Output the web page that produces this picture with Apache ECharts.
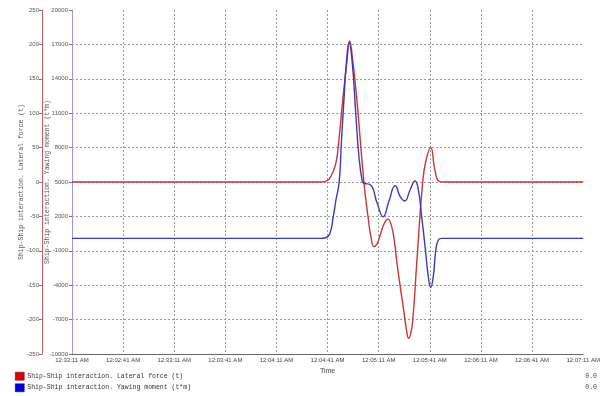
<!DOCTYPE html>
<html>
<head>
<meta charset="utf-8">
<script src="https://cdn.jsdelivr.net/npm/echarts@6/dist/echarts.min.js"></script>
<style>
html,body{margin:0;padding:0;background:#fff;}
#c{width:603px;height:396px;}
</style>
</head>
<body>
<div id="c"></div>
<script>
// X tick labels (as shown in the reference), one per 30 s
var xLabels = ['12:32:11 AM','12:02:41 AM','12:33:11 AM','12:03:41 AM','12:04:11 AM','12:04:41 AM','12:05:11 AM','12:05:41 AM','12:06:11 AM','12:06:41 AM','12:07:11 AM'];
var seriesNames = ['Ship-Ship interaction. Lateral force (t)', 'Ship-Ship interaction. Yawing moment (t*m)'];
var legendValues = ['0.0', '0.0'];

// Lateral force (t): time in seconds from start, value
var forceTime  = [0, 146.0, 149.0, 151.9, 154.8, 156.2, 159.1, 161.2, 163.0, 164.5, 167.0, 171.3, 173.7, 175.6, 177.2, 179.0, 181.0, 183.3, 185.3, 187.3, 189.3, 190.7, 194.9, 196.3, 197.5, 198.7, 200.0, 202.3, 205.8, 207.8, 210.5, 213.0, 215.5, 218.5, 300];
var forceValue = [0, 0, 1, 8, 27, 51, 124, 172, 205, 182, 124, 0, -50, -82, -94, -90, -76, -60, -54, -62, -88, -118, -191, -215, -227, -221, -200, -118, 0, 32, 50, 17, 1, 0, 0];

// Yawing moment (t*m)
var momentTime  = [0, 146.0, 148.4, 151.2, 153.3, 154.9, 156.8, 158.1, 159.7, 161.0, 162.6, 164.5, 166.5, 168.4, 170.4, 171.4, 175.2, 179.1, 182.6, 185.9, 189.7, 192.6, 195.2, 198.4, 201.3, 203.3, 205.2, 207.2, 209.1, 210.5, 212.0, 213.5, 215.0, 216.9, 219.5, 300];
var momentValue = [80, 80, 120, 465, 1974, 3430, 5026, 8490, 12440, 15350, 17150, 15350, 10990, 7206, 5026, 4890, 4740, 3140, 1974, 3282, 4680, 3718, 3343, 4302, 5087, 4302, 1974, -643, -3259, -4183, -3259, -930, -58, 80, 80, 80];

function pairs(t, v){ return t.map(function(x,i){ return [x, v[i]]; }); }

var chart = echarts.init(document.getElementById('c'), null, {renderer:'canvas'});
var sans = 'Liberation Sans';
var mono = 'Liberation Mono';
var gridStyle = {show:true, showMinLine:false, showMaxLine:false, lineStyle:{color:'#9a9a9a', type:[2,2], width:1}};

chart.setOption({
  animation:false,
  backgroundColor:'#ffffff',
  grid:{left:72, right:15, top:10, bottom:42, containLabel:false},
  xAxis:{
    type:'value', min:0, max:300, interval:30,
    name:'Time', nameLocation:'middle', nameGap:14, nameMoveOverlap:false,
    nameTextStyle:{fontFamily:sans, fontSize:7, color:'#444'},
    axisLine:{show:true, onZero:false, lineStyle:{color:'#666', width:1}},
    axisTick:{show:false},
    axisLabel:{fontFamily:sans, fontSize:6, color:'#444', margin:3, showMaxLabel:true, showMinLabel:true,
      formatter:function(v){ return xLabels[Math.round(v/30)]; }},
    splitLine:gridStyle
  },
  yAxis:[
    {
      type:'value', position:'left', offset:30, min:-250, max:250, interval:50,
      name:seriesNames[0], nameLocation:'middle', nameGap:17, nameRotate:90, nameMoveOverlap:false,
      nameTextStyle:{fontFamily:mono, fontSize:6.5, color:'#555'},
      axisLine:{show:true, onZero:false, lineStyle:{color:'#c86060', width:1}},
      axisTick:{show:true, length:3, lineStyle:{color:'#777'}},
      axisLabel:{fontFamily:sans, fontSize:6, color:'#555', margin:3, formatter:function(v){return String(v);}},
      splitLine:{show:false}
    },
    {
      type:'value', position:'left', offset:0, min:-10000, max:20000, interval:3000,
      name:seriesNames[1], nameLocation:'middle', nameGap:21, nameRotate:90, nameMoveOverlap:false,
      nameTextStyle:{fontFamily:mono, fontSize:6.5, color:'#555'},
      axisLine:{show:true, onZero:false, lineStyle:{color:'#9a9ad8', width:1}},
      axisTick:{show:true, length:3, lineStyle:{color:'#777'}},
      axisLabel:{fontFamily:sans, fontSize:6, color:'#555', margin:4, formatter:function(v){return String(v);}},
      splitLine:gridStyle
    }
  ],
  legend:{
    orient:'vertical', left:15, top:372, padding:0, itemWidth:9, itemHeight:8, itemGap:3,
    icon:'rect', selectedMode:false,
    textStyle:{fontFamily:mono, fontSize:6.5, color:'#333', padding:[0,0,0,-2]},
    data:[
      {name:seriesNames[0], itemStyle:{color:'#e00000', borderColor:'#600', borderWidth:0.5}},
      {name:seriesNames[1], itemStyle:{color:'#0000e0', borderColor:'#006', borderWidth:0.5}}
    ]
  },
  graphic:[
    {type:'text', right:6, top:373, style:{text:legendValues[0], font:'6.5px '+mono, fill:'#444'}},
    {type:'text', right:6, top:384, style:{text:legendValues[1], font:'6.5px '+mono, fill:'#444'}}
  ],
  series:[
    {
      name:seriesNames[0], type:'line', yAxisIndex:0, showSymbol:false, symbol:'none',
      smooth:0.5,
      lineStyle:{color:'#cc3333', width:1.4}, itemStyle:{color:'#e00000'},
      data:pairs(forceTime, forceValue), z:3
    },
    {
      name:seriesNames[1], type:'line', yAxisIndex:1, showSymbol:false, symbol:'none',
      smooth:0.5,
      lineStyle:{color:'#3a3ab8', width:1.4}, itemStyle:{color:'#0000e0'},
      data:pairs(momentTime, momentValue), z:4
    }
  ]
});
</script>
</body>
</html>
